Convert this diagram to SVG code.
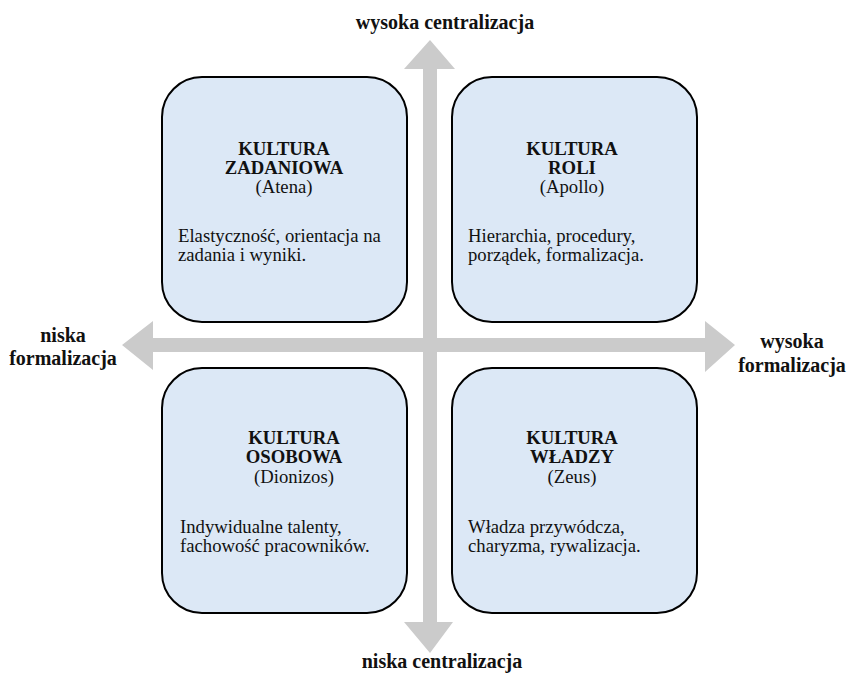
<svg xmlns="http://www.w3.org/2000/svg" width="851" height="675" viewBox="0 0 851 675">
  <style>
    .box { fill: #dce8f6; stroke: #000; stroke-width: 2; }
    .axis { fill: #cbcbcb; }
    text { font-family: 'Liberation Serif', 'Times New Roman', serif; fill: #111; }
    .t { font-size: 18.7px; }
    .h { font-weight: bold; text-anchor: middle; }
    .c { text-anchor: middle; }
    .lab { font-size: 20px; font-weight: bold; text-anchor: middle; }
  </style>
  <rect width="851" height="675" fill="#fff"/>

  <!-- axes: two double-headed block arrows -->
  <g id="axes">
    <polygon class="axis" points="423,69 404,69 430,40 455,69 437,69 437,622 453,622 430,653 404,622 423,622"/>
    <polygon class="axis" points="153,338 153,321 122,345 153,370 153,352 705,352 705,372 735,345 705,321 705,338"/>
  </g>

  <!-- axis labels -->
  <g id="labels">
    <text class="lab" x="445" y="29">wysoka centralizacja</text>
    <text class="lab" x="442" y="668">niska centralizacja</text>
    <text class="lab" x="63" y="342">niska</text>
    <text class="lab" x="63" y="365">formalizacja</text>
    <text class="lab" x="792" y="348">wysoka</text>
    <text class="lab" x="792" y="372">formalizacja</text>
  </g>

  <g id="task">
    <rect class="box" x="162" y="77" width="245" height="245" rx="40"/>
    <text class="t h" x="284" y="155">KULTURA</text>
    <text class="t h" x="284" y="174">ZADANIOWA</text>
    <text class="t c" x="284" y="193">(Atena)</text>
    <text class="t" x="178" y="242">Elastyczność, orientacja na</text>
    <text class="t" x="178" y="261">zadania i wyniki.</text>
  </g>

  <g id="role">
    <rect class="box" x="452" y="77" width="245" height="245" rx="40"/>
    <text class="t h" x="572" y="155">KULTURA</text>
    <text class="t h" x="572" y="174">ROLI</text>
    <text class="t c" x="572" y="193">(Apollo)</text>
    <text class="t" x="468" y="242">Hierarchia, procedury,</text>
    <text class="t" x="468" y="261">porządek, formalizacja.</text>
  </g>

  <g id="person">
    <rect class="box" x="162" y="368" width="245" height="245" rx="40"/>
    <text class="t h" x="294" y="444">KULTURA</text>
    <text class="t h" x="294" y="463">OSOBOWA</text>
    <text class="t c" x="294" y="483">(Dionizos)</text>
    <text class="t" x="180" y="533">Indywidualne talenty,</text>
    <text class="t" x="180" y="552">fachowość pracowników.</text>
  </g>

  <g id="power">
    <rect class="box" x="452" y="368" width="245" height="245" rx="40"/>
    <text class="t h" x="572" y="444">KULTURA</text>
    <text class="t h" x="572" y="463">WŁADZY</text>
    <text class="t c" x="572" y="483">(Zeus)</text>
    <text class="t" x="468" y="533">Władza przywódcza,</text>
    <text class="t" x="468" y="552">charyzma, rywalizacja.</text>
  </g>
</svg>
